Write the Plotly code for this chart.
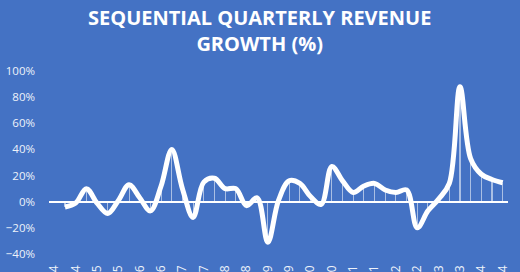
import plotly.graph_objects as go

quarters = []
for y in range(2014, 2025):
    for q in range(1, 5):
        if y == 2014 and q == 1:
            continue
        quarters.append(f"Q{q} {y}")

growth = [None, -4, -1, 10, -1, -9, 1, 13, 3, -7, 12, 40, 10, -12, 15, 18, 10, 10, -3, 3,
          -31, 1, 16, 14, 4, -2, 27, 16, 7, 12, 14, 9, 7, 9, -20, -7, 2, 14, 88, 33,
          21, 17, 14.5]
growth_frac = [None if v is None else v / 100 for v in growth]

tick_labels = quarters[::2]
y_ticks = [-0.4, -0.2, 0, 0.2, 0.4, 0.6, 0.8, 1.0]

BG = "#4472C4"
FONT = "Open Sans"
PLOT_LEFT, PLOT_RIGHT = 49, 508
PLOT_TOP, PLOT_BOTTOM = 71, 254

fig = go.Figure()
fig.add_trace(go.Bar(
    x=quarters, y=growth_frac, width=0.1,
    marker=dict(color="rgba(255,255,255,0.55)", line=dict(width=0)),
    hoverinfo="skip", showlegend=False,
))
fig.add_trace(go.Scatter(
    x=quarters, y=growth_frac, mode="lines",
    line=dict(color="white", width=5, shape="spline", smoothing=1),
    connectgaps=False, showlegend=False,
))

title_top_px = 2
title_center_px = 259
fig.add_annotation(
    text="SEQUENTIAL QUARTERLY REVENUE<br>GROWTH (%)",
    xref="paper", yref="paper",
    x=(title_center_px - PLOT_LEFT) / (PLOT_RIGHT - PLOT_LEFT), xanchor="center",
    y=(PLOT_BOTTOM - title_top_px) / (PLOT_BOTTOM - PLOT_TOP), yanchor="top",
    showarrow=False, align="center",
    font=dict(family=FONT, size=20, color="white", weight="bold"),
)

fig.update_layout(
    width=520, height=272,
    paper_bgcolor=BG, plot_bgcolor=BG,
    margin=dict(l=PLOT_LEFT, r=520 - PLOT_RIGHT, t=PLOT_TOP, b=272 - PLOT_BOTTOM,
                autoexpand=False),
    font=dict(family=FONT, color="#EEF2FA"),
    bargap=0,
)
fig.update_xaxes(
    type="category", range=[-0.5, len(quarters) - 0.5],
    tickvals=tick_labels, ticktext=tick_labels, tickangle=-90,
    tickfont=dict(size=12, color="#EEF2FA"),
    showgrid=False, showline=False, zeroline=False, automargin=False,
    ticks="", ticklabelstandoff=8,
)
fig.update_yaxes(
    range=[-0.4, 1.0], tickvals=y_ticks, tickformat=".0%",
    tickfont=dict(size=11.5, color="#EEF2FA"),
    showgrid=False, showline=False, zeroline=True,
    zerolinecolor="white", zerolinewidth=2,
    automargin=False, ticks="", ticklabelstandoff=13,
)

fig.write_html("out.html")
